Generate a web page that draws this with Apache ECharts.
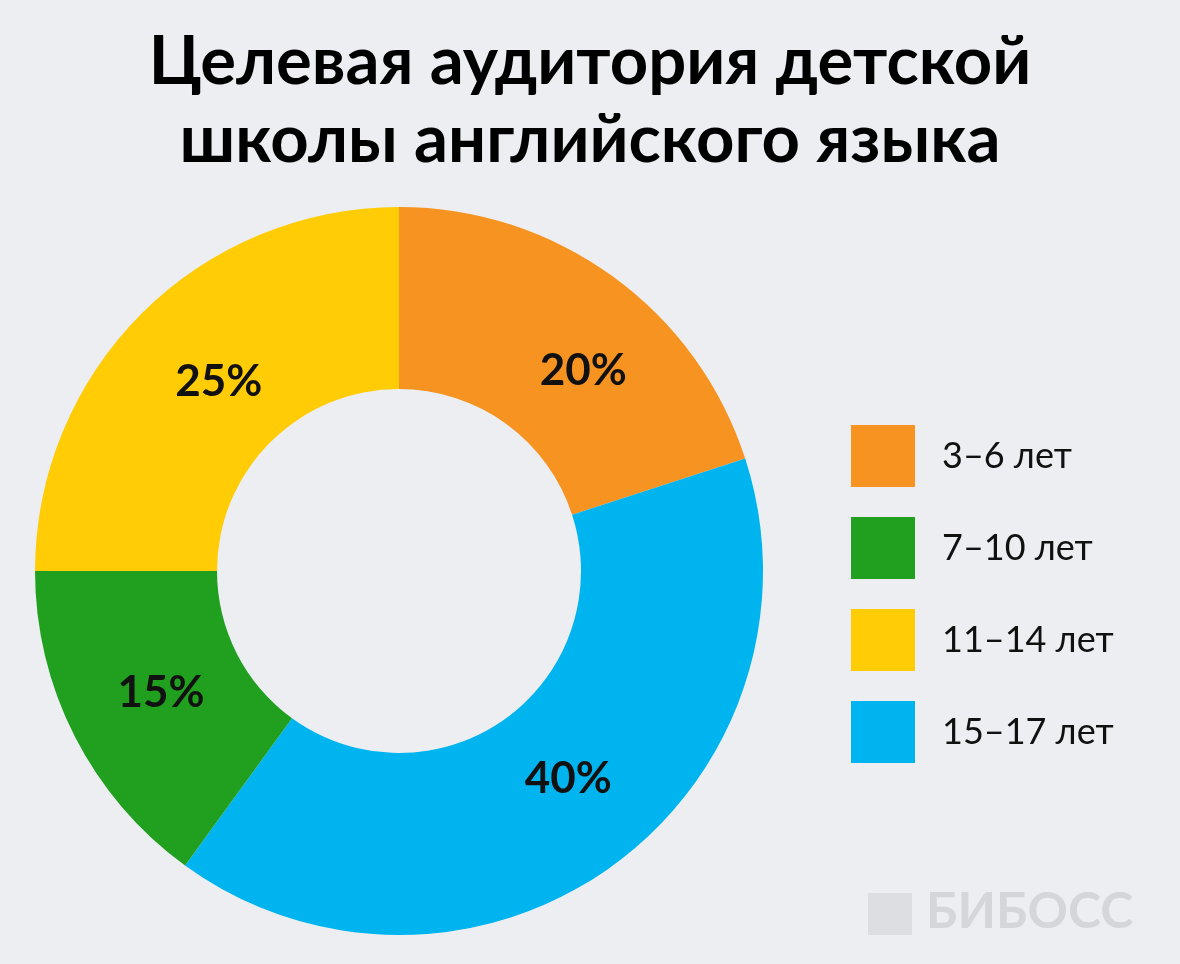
<!DOCTYPE html>
<html><head><meta charset="utf-8">
<script src="https://cdn.jsdelivr.net/npm/echarts@6/dist/echarts.min.js"></script>
<style>html,body{margin:0;padding:0;background:#eceef2}#c{width:1180px;height:964px}</style>
</head><body><div id="c"></div>
<script>
const categories = ['3–6 лет','15–17 лет','7–10 лет','11–14 лет'];
const values = [20,40,15,25];
const colors = ['#f79421','#00b4ef','#21a020','#ffcc05'];
const legendOrder = ['3–6 лет','7–10 лет','11–14 лет','15–17 лет'];
const labelOffsets = [[22,23],[7,-15],[8,-3],[15,6]];
const chart = echarts.init(document.getElementById('c'));
chart.setOption({
  backgroundColor:'#eceef2',
  title:{text:'Целевая аудитория детской\nшколы английского языка',left:'center',top:18,
    textStyle:{fontFamily:'Lato',fontWeight:'bold',fontSize:67,lineHeight:78,color:'#000'}},
  legend:{data:legendOrder,orient:'vertical',left:846,top:420,itemWidth:64,itemHeight:62,itemGap:30,
    icon:'rect',textStyle:{fontFamily:'Lato',fontSize:36,color:'#111',padding:[0,0,0,22]}},
  graphic:[{type:'rect',left:868,top:893,shape:{width:44,height:42},style:{fill:'#dcdee2'}},
    {type:'text',left:926,top:887,style:{text:'БИБОСС',fontFamily:'Lato',fontWeight:'bold',fontSize:50,fill:'#d4d6da'}}],
  series:[{type:'pie',center:[399,571],radius:[182,364],startAngle:90,clockwise:true,
    data:categories.map((n,i)=>({name:n,value:values[i],itemStyle:{color:colors[i]},label:{offset:labelOffsets[i]}})),
    label:{position:'inside',formatter:'{c}%',fontFamily:'Lato',fontWeight:'bold',fontSize:44,color:'#111'},
    labelLine:{show:false},emphasis:{disabled:true}}]
});
</script></body></html>
